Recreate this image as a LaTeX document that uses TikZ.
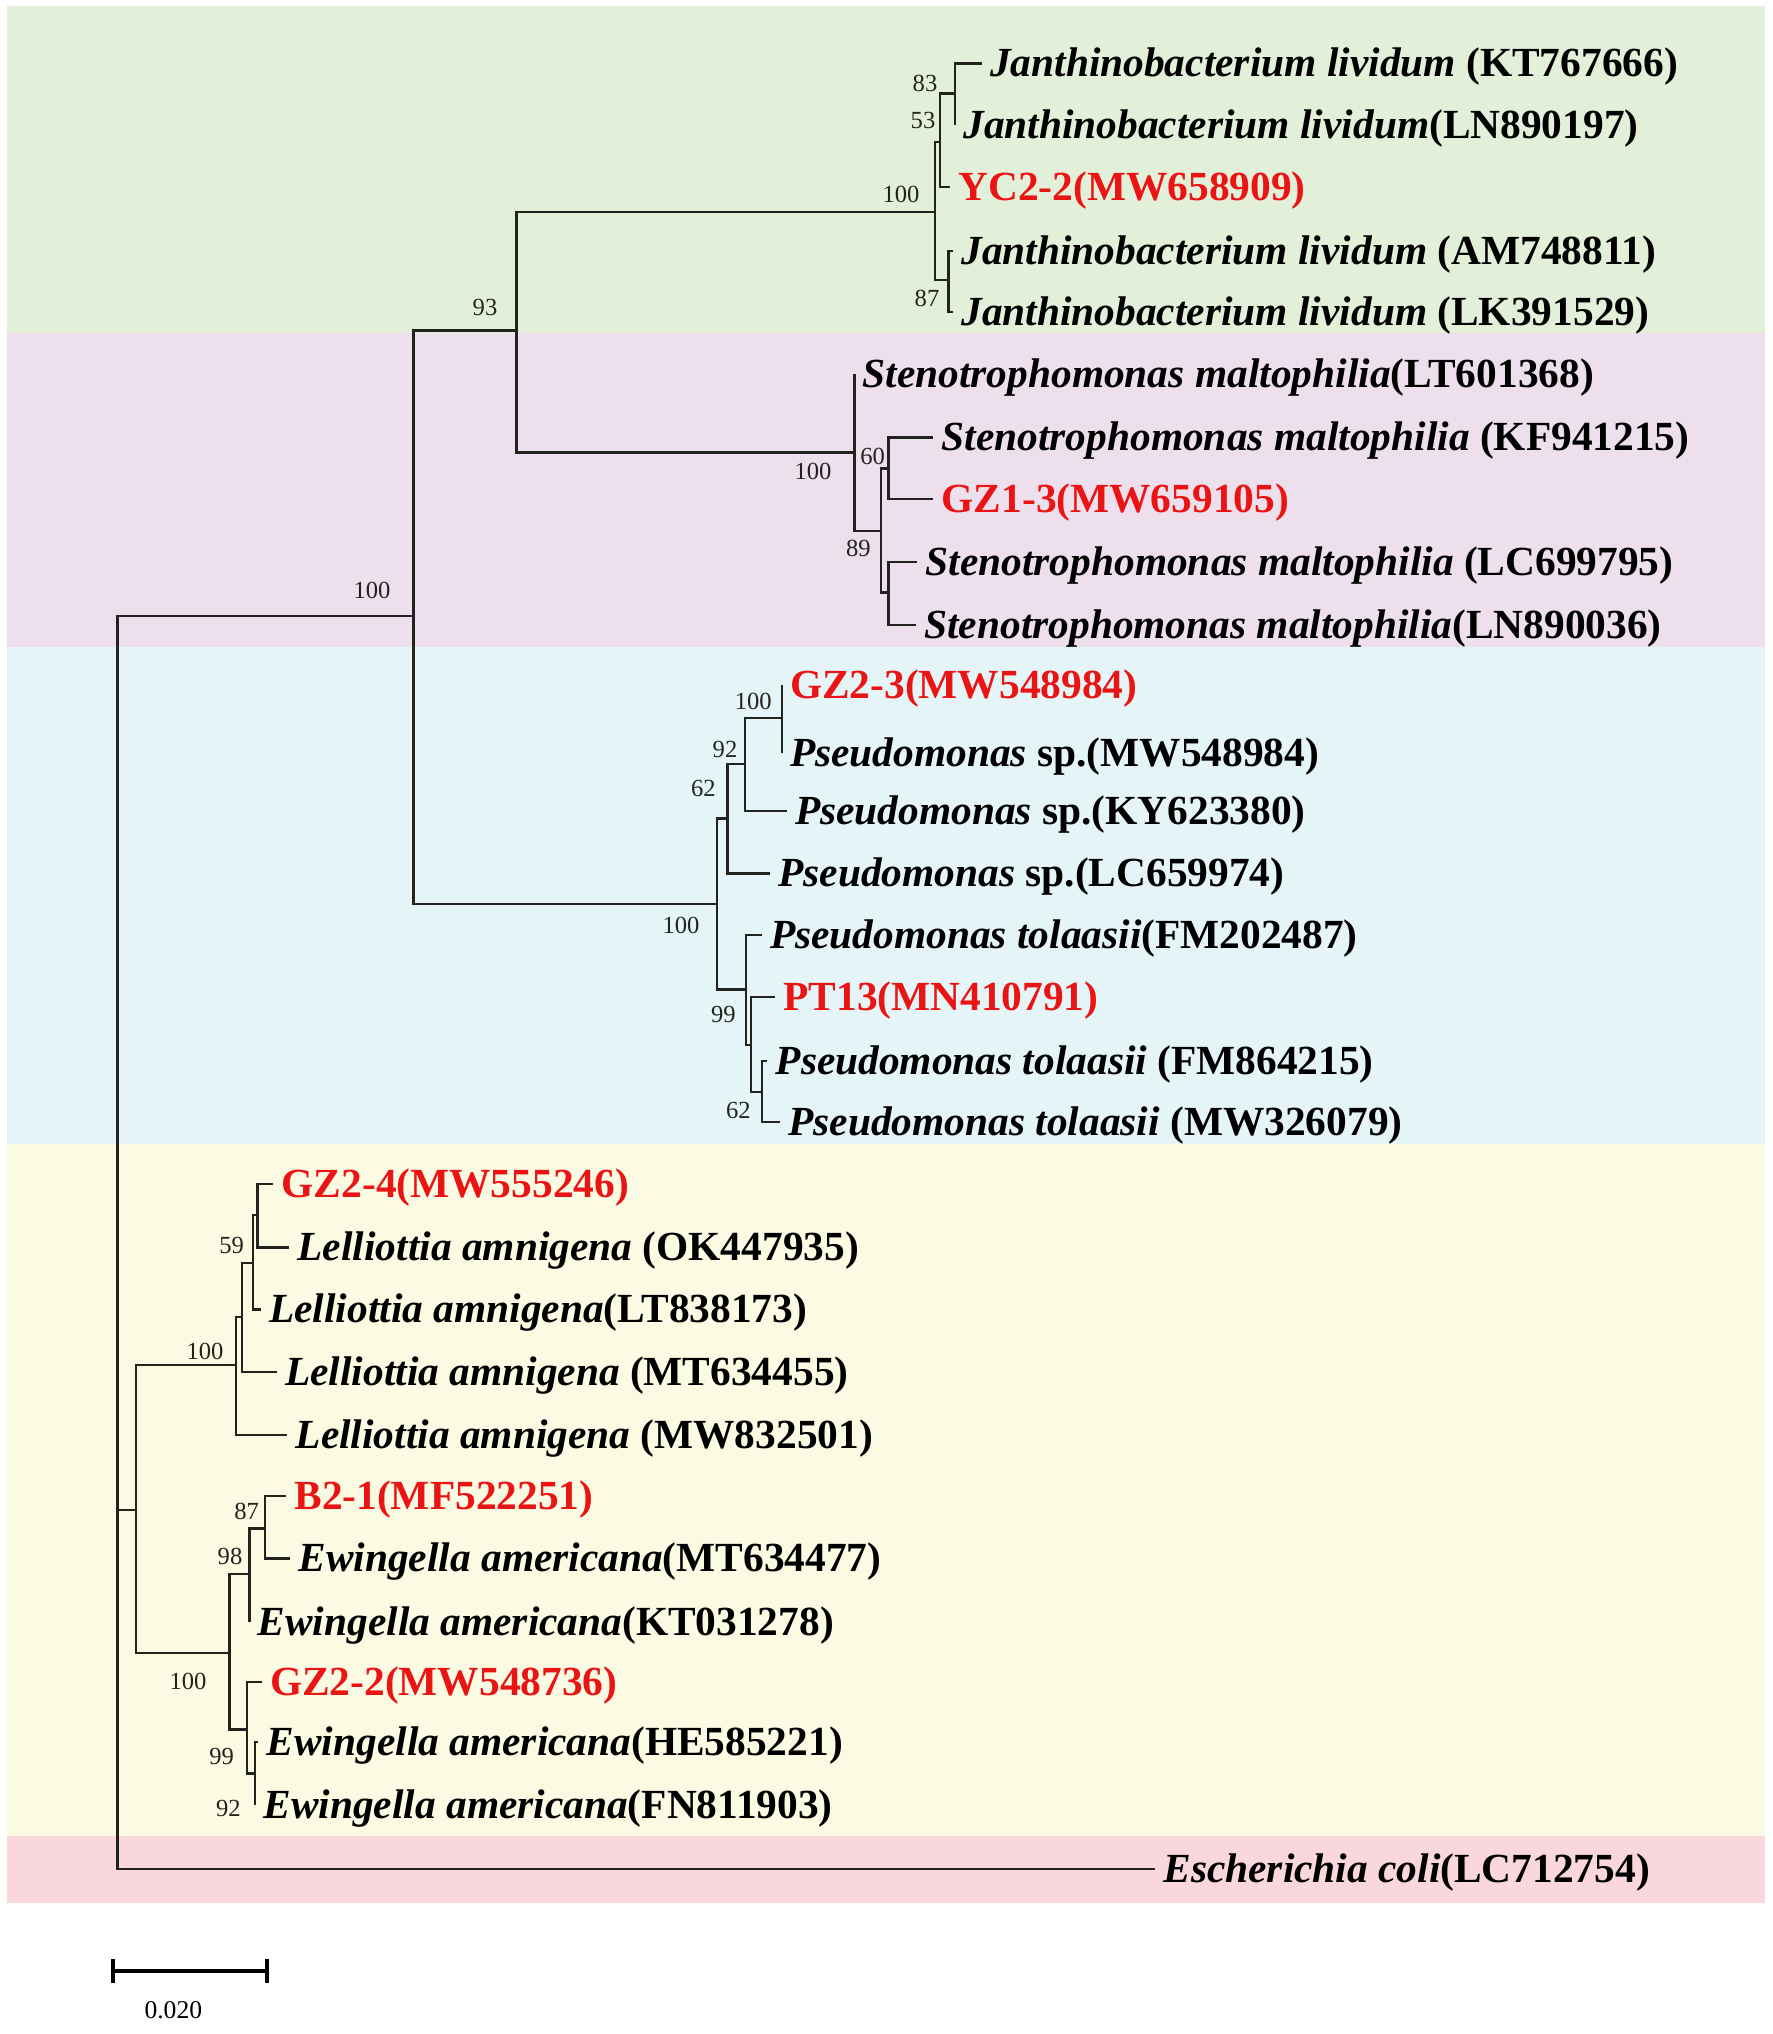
\documentclass[tikz,border=0pt]{standalone}
\usepackage{fontspec}
\setmainfont{Liberation Serif}
\definecolor{bgA}{RGB}{227,240,217}
\definecolor{bgB}{RGB}{237,223,236}
\definecolor{bgC}{RGB}{228,244,247}
\definecolor{bgD}{RGB}{251,250,227}
\definecolor{bgE}{RGB}{249,215,221}
\definecolor{brc}{RGB}{35,35,30}
\definecolor{strainred}{RGB}{235,20,20}
\newcommand\lfnt{\fontsize{20.7}{24}\selectfont\bfseries}
\newcommand\bfnt{\fontsize{12.3}{14}\selectfont}
\begin{document}
\begin{tikzpicture}[x=0.5pt,y=-0.5pt,
  br/.style={draw=brc,line width=1.2pt},
  leaf/.style={anchor=base west,inner sep=0pt,font=\lfnt,xshift=4pt,yshift=-6.8pt},
  red leaf/.style={leaf,text=strainred},
  boot/.style={inner sep=0pt,font=\bfnt,text=brc}]
\useasboundingbox (0,0) rectangle (1772,2034);
% background bands
\fill[bgA] (7,6) rectangle (1765,333);
\fill[bgB] (7,333) rectangle (1765,647);
\fill[bgC] (7,647) rectangle (1765,1144);
\fill[bgD] (7,1144) rectangle (1765,1836);
\fill[bgE] (7,1836) rectangle (1765,1903);
% internal nodes
\coordinate (root) at (117.5,1510);
\coordinate (A) at (413.6,616);
\coordinate (B) at (516.5,330.4);
\coordinate (J) at (935,211.7);
\coordinate (J1) at (940,141.7);
\coordinate (J11) at (955,93.3);
\coordinate (J2) at (948.3,280);
\coordinate (S) at (854.3,452.3);
\coordinate (S1) at (880.7,530.7);
\coordinate (S11) at (888.3,468.3);
\coordinate (S12) at (888.3,592.3);
\coordinate (P) at (716.7,904);
\coordinate (P1) at (727.3,818.3);
\coordinate (P11) at (745,764);
\coordinate (P111) at (781.7,718);
\coordinate (P2) at (746,989.3);
\coordinate (P21) at (750.7,1045);
\coordinate (P211) at (761.7,1091.7);
\coordinate (Ent) at (135.7,1510);
\coordinate (L) at (236,1365);
\coordinate (L1) at (241.7,1316.7);
\coordinate (L11) at (252.7,1262.7);
\coordinate (L111) at (257.3,1215);
\coordinate (E) at (229.3,1652.7);
\coordinate (E1) at (249.3,1574);
\coordinate (E11) at (265,1528.3);
\coordinate (E2) at (246.7,1729.3);
\coordinate (E21) at (255,1773.5);
% tips
\coordinate (t1) at (981.7,63.3);
\coordinate (t2) at (955,125);
\coordinate (t3) at (950,186.7);
\coordinate (t4) at (953,251);
\coordinate (t5) at (953,312);
\coordinate (t6) at (854.3,374);
\coordinate (t7) at (933.3,437.3);
\coordinate (t8) at (933.3,499);
\coordinate (t9) at (917.3,561.7);
\coordinate (t10) at (916,625);
\coordinate (t11) at (781.7,685);
\coordinate (t12) at (781.7,753);
\coordinate (t13) at (786.7,810.7);
\coordinate (t14) at (770,873.3);
\coordinate (t15) at (761.7,935);
\coordinate (t16) at (775,997);
\coordinate (t17) at (767.3,1060.7);
\coordinate (t18) at (780,1121.7);
\coordinate (t19) at (273.3,1184);
\coordinate (t20) at (289.3,1247.3);
\coordinate (t21) at (260.7,1309.3);
\coordinate (t22) at (276.7,1371.7);
\coordinate (t23) at (287.3,1435);
\coordinate (t24) at (286,1496);
\coordinate (t25) at (290,1558.3);
\coordinate (t26) at (249.3,1621.7);
\coordinate (t27) at (261.7,1682);
\coordinate (t28) at (258.3,1742);
\coordinate (t29) at (255,1805);
\coordinate (t30) at (1155,1869);
% branches
\foreach \p/\c in {root/A,root/Ent,root/t30,A/B,A/P,B/J,B/S,
  J/J1,J/J2,J1/J11,J1/t3,J11/t1,J11/t2,J2/t4,J2/t5,
  S/t6,S/S1,S1/S11,S1/S12,S11/t7,S11/t8,S12/t9,S12/t10,
  P/P1,P/P2,P1/P11,P1/t14,P11/P111,P11/t13,P111/t11,P111/t12,
  P2/t15,P2/P21,P21/t16,P21/P211,P211/t17,P211/t18,
  Ent/L,Ent/E,L/L1,L/t23,L1/L11,L1/t22,L11/L111,L11/t21,L111/t19,L111/t20,
  E/E1,E/E2,E1/E11,E1/t26,E11/t24,E11/t25,E2/t27,E2/E21,E21/t28,E21/t29}
  \draw[br] (\p) |- (\c);
% leaf labels
\node[leaf] (l1) at (t1) {\textit{Janthinobacterium lividum} (KT767666)};
\node[leaf] (l2) at (t2) {\textit{Janthinobacterium lividum}(LN890197)};
\node[red leaf] (l3) at (t3) {YC2-2(MW658909)};
\node[leaf] (l4) at (t4) {\textit{Janthinobacterium lividum} (AM748811)};
\node[leaf] (l5) at (t5) {\textit{Janthinobacterium lividum} (LK391529)};
\node[leaf] (l6) at (t6) {\textit{Stenotrophomonas maltophilia}(LT601368)};
\node[leaf] (l7) at (t7) {\textit{Stenotrophomonas maltophilia} (KF941215)};
\node[red leaf] (l8) at (t8) {GZ1-3(MW659105)};
\node[leaf] (l9) at (t9) {\textit{Stenotrophomonas maltophilia} (LC699795)};
\node[leaf] (l10) at (t10) {\textit{Stenotrophomonas maltophilia}(LN890036)};
\node[red leaf] (l11) at (t11) {GZ2-3(MW548984)};
\node[leaf] (l12) at (t12) {\textit{Pseudomonas} sp.(MW548984)};
\node[leaf] (l13) at (t13) {\textit{Pseudomonas} sp.(KY623380)};
\node[leaf] (l14) at (t14) {\textit{Pseudomonas} sp.(LC659974)};
\node[leaf] (l15) at (t15) {\textit{Pseudomonas tolaasii}(FM202487)};
\node[red leaf] (l16) at (t16) {PT13(MN410791)};
\node[leaf] (l17) at (t17) {\textit{Pseudomonas tolaasii} (FM864215)};
\node[leaf] (l18) at (t18) {\textit{Pseudomonas tolaasii} (MW326079)};
\node[red leaf] (l19) at (t19) {GZ2-4(MW555246)};
\node[leaf] (l20) at (t20) {\textit{Lelliottia amnigena} (OK447935)};
\node[leaf] (l21) at (t21) {\textit{Lelliottia amnigena}(LT838173)};
\node[leaf] (l22) at (t22) {\textit{Lelliottia amnigena} (MT634455)};
\node[leaf] (l23) at (t23) {\textit{Lelliottia amnigena} (MW832501)};
\node[red leaf] (l24) at (t24) {B2-1(MF522251)};
\node[leaf] (l25) at (t25) {\textit{Ewingella americana}(MT634477)};
\node[leaf] (l26) at (t26) {\textit{Ewingella americana}(KT031278)};
\node[red leaf] (l27) at (t27) {GZ2-2(MW548736)};
\node[leaf] (l28) at (t28) {\textit{Ewingella americana}(HE585221)};
\node[leaf] (l29) at (t29) {\textit{Ewingella americana}(FN811903)};
\node[leaf] (l30) at (t30) {\textit{Escherichia coli}(LC712754)};
% bootstrap values
\node[boot] (b1) at (372,590) {100};
\node[boot] (b2) at (485,307) {93};
\node[boot] (b3) at (901,194) {100};
\node[boot] (b4) at (925,83) {83};
\node[boot] (b5) at (923,120) {53};
\node[boot] (b6) at (927,298) {87};
\node[boot] (b7) at (813,471) {100};
\node[boot] (b8) at (872.7,456.7) {60};
\node[boot] (b9) at (858.3,548.3) {89};
\node[boot] (b10) at (753.3,701.7) {100};
\node[boot] (b11) at (725,749.3) {92};
\node[boot] (b12) at (703.3,788.3) {62};
\node[boot] (b13) at (681,925) {100};
\node[boot] (b14) at (723.3,1014) {99};
\node[boot] (b15) at (738.3,1110) {62};
\node[boot] (b16) at (231.7,1245) {59};
\node[boot] (b17) at (205,1351) {100};
\node[boot] (b18) at (246.7,1511.7) {87};
\node[boot] (b19) at (230,1556.7) {98};
\node[boot] (b20) at (188,1681) {100};
\node[boot] (b21) at (221.7,1756.7) {99};
\node[boot] (b22) at (228.3,1808.3) {92};
% scale bar
\coordinate (sb1) at (113.3,1970.7);
\coordinate (sb2) at (266.7,1970.7);
\draw[line width=2pt] (sb1) -- (sb2);
\draw[line width=2pt] ([yshift=6pt]sb1) -- ([yshift=-6pt]sb1);
\draw[line width=2pt] ([yshift=6pt]sb2) -- ([yshift=-6pt]sb2);
\node[inner sep=0pt,font=\fontsize{12.8}{14}\selectfont] (sbl) at (173.3,2010) {0.020};
\end{tikzpicture}
\end{document}
